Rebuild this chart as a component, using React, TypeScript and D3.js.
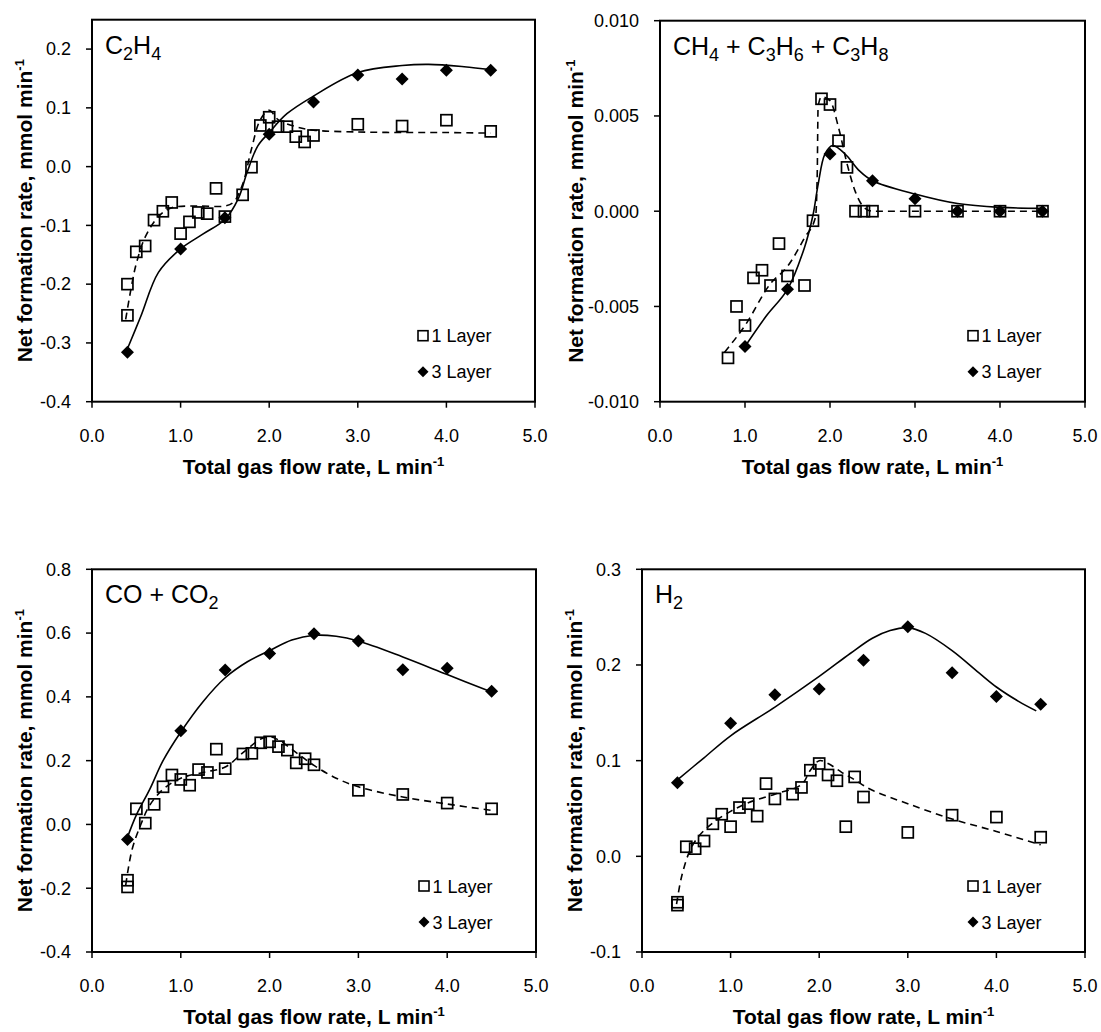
import React from 'react';
import * as d3 from 'd3';

// ---------- shared axis values ----------
const xTickValues = [0, 1, 2, 3, 4, 5];
const flow1Layer = [0.4, 0.4, 0.5, 0.6, 0.7, 0.8, 0.9, 1.0, 1.1, 1.2, 1.3, 1.4, 1.5, 1.7, 1.8, 1.9, 2.0, 2.1, 2.2, 2.3, 2.4, 2.5, 3.0, 3.5, 4.0, 4.5];
const flow3Layer = [0.4, 1.0, 1.5, 2.0, 2.5, 3.0, 3.5, 4.0, 4.5];

// ---------- Panel A: C2H4 ----------
const c2h4Ticks = [-0.4, -0.3, -0.2, -0.1, 0.0, 0.1, 0.2];
const c2h4One = [-0.200, -0.253, -0.145, -0.135, -0.091, -0.076, -0.061, -0.114, -0.094, -0.078, -0.080, -0.037, -0.085, -0.048, -0.001, 0.070, 0.084, 0.068, 0.068, 0.051, 0.042, 0.053, 0.072, 0.069, 0.079, 0.060];
const c2h4Three = [-0.316, -0.140, -0.087, 0.055, 0.110, 0.156, 0.149, 0.164, 0.164];
const c2h4FitOneX = [0.38, 0.45, 0.5, 0.6, 0.75, 0.9, 1.2, 1.5, 1.6, 1.7, 1.8, 1.9, 2.0, 2.1, 2.3, 2.5, 3.0, 3.5, 4.0, 4.5];
const c2h4FitOneY = [-0.26, -0.2, -0.165, -0.12, -0.085, -0.07, -0.067, -0.067, -0.06, -0.03, 0.03, 0.08, 0.096, 0.08, 0.068, 0.062, 0.059, 0.058, 0.058, 0.057];
const c2h4FitThreeX = [0.4, 0.55, 0.75, 1.0, 1.25, 1.5, 1.65, 1.75, 1.87, 2.0, 2.2, 2.5, 3.0, 3.5, 3.8, 4.2, 4.5];
const c2h4FitThreeY = [-0.31, -0.255, -0.18, -0.14, -0.115, -0.09, -0.055, -0.01, 0.035, 0.058, 0.09, 0.12, 0.16, 0.172, 0.174, 0.17, 0.165];

// ---------- Panel B: CH4 + C3H6 + C3H8 ----------
const hcTicks = [-0.01, -0.005, 0, 0.005, 0.01];
const hcFlowOne = [0.8, 0.9, 1.0, 1.1, 1.2, 1.3, 1.4, 1.5, 1.7, 1.8, 1.9, 2.0, 2.1, 2.2, 2.3, 2.4, 2.5, 3.0, 3.5, 4.0, 4.5];
const hcOne = [-0.0077, -0.0050, -0.0060, -0.0035, -0.0031, -0.0039, -0.0017, -0.0034, -0.0039, -0.0005, 0.0059, 0.0056, 0.0037, 0.0023, 0, 0, 0, 0, 0, 0, 0];
const hcFlowThree = [1.0, 1.5, 2.0, 2.5, 3.0, 3.5, 4.0, 4.5];
const hcThree = [-0.0071, -0.0041, 0.0030, 0.0016, 0.00065, 0, 0, 0];
const hcFitOneX = [0.76, 1.0, 1.3, 1.5, 1.7, 1.83, 1.85, 1.86, 1.9, 2.0, 2.1, 2.2, 2.3, 2.4, 2.5, 3.0, 4.5];
const hcFitOneY = [-0.0074, -0.006, -0.0038, -0.0029, -0.0014, -0.0003, 0.002, 0.0055, 0.006, 0.0058, 0.0044, 0.0025, 0.001, 0.0002, 0, 0, 0];
const hcFitThreeX = [1.0, 1.25, 1.5, 1.7, 1.8, 1.86, 1.94, 2.03, 2.1, 2.2, 2.35, 2.5, 3.0, 3.5, 4.0, 4.5];
const hcFitThreeY = [-0.0071, -0.0055, -0.0041, -0.0019, -0.0002, 0.0014, 0.003, 0.00345, 0.0033, 0.0029, 0.0021, 0.0016, 0.0009, 0.0004, 0.0002, 0.00015];

// ---------- Panel C: CO + CO2 ----------
const coTicks = [-0.4, -0.2, 0.0, 0.2, 0.4, 0.6, 0.8];
const coOne = [-0.175, -0.196, 0.049, 0.004, 0.063, 0.118, 0.155, 0.141, 0.123, 0.172, 0.163, 0.236, 0.175, 0.221, 0.223, 0.256, 0.259, 0.244, 0.233, 0.193, 0.206, 0.187, 0.107, 0.094, 0.067, 0.049];
const coThree = [-0.047, 0.294, 0.484, 0.536, 0.598, 0.575, 0.485, 0.490, 0.418];
const coFitOneX = [0.38, 0.45, 0.55, 0.65, 0.8, 1.0, 1.25, 1.5, 1.7, 1.9, 2.0, 2.1, 2.3, 2.5, 2.75, 3.0, 3.5, 4.0, 4.5];
const coFitOneY = [-0.19, -0.08, 0.0, 0.06, 0.11, 0.145, 0.163, 0.18, 0.225, 0.268, 0.275, 0.265, 0.225, 0.185, 0.145, 0.118, 0.086, 0.064, 0.044];
const coFitThreeX = [0.4, 0.5, 0.65, 0.8, 1.0, 1.25, 1.5, 1.75, 2.0, 2.25, 2.5, 2.75, 3.0, 3.5, 4.0, 4.5];
const coFitThreeY = [-0.04, 0.03, 0.11, 0.2, 0.29, 0.385, 0.46, 0.51, 0.545, 0.578, 0.593, 0.59, 0.575, 0.525, 0.47, 0.415];

// ---------- Panel D: H2 ----------
const h2Ticks = [-0.1, 0.0, 0.1, 0.2, 0.3];
const h2One = [-0.048, -0.051, 0.010, 0.008, 0.016, 0.034, 0.044, 0.031, 0.051, 0.055, 0.042, 0.076, 0.060, 0.065, 0.072, 0.090, 0.097, 0.085, 0.079, 0.031, 0.083, 0.062, 0.025, 0.043, 0.041, 0.020];
const h2Three = [0.077, 0.139, 0.169, 0.175, 0.205, 0.240, 0.192, 0.167, 0.159];
const h2FitOneX = [0.39, 0.45, 0.55, 0.65, 0.8, 1.0, 1.2, 1.5, 1.8, 1.9, 2.0, 2.1, 2.25, 2.4, 2.6, 3.0, 3.5, 4.0, 4.5];
const h2FitOneY = [-0.05, -0.02, 0.008, 0.022, 0.035, 0.047, 0.056, 0.065, 0.075, 0.09, 0.1, 0.097, 0.088, 0.08, 0.069, 0.055, 0.039, 0.026, 0.012];
const h2FitThreeX = [0.4, 0.7, 1.0, 1.5, 2.0, 2.35, 2.6, 2.8, 3.0, 3.2, 3.5, 3.8, 4.0, 4.25, 4.45];
const h2FitThreeY = [0.08, 0.103, 0.126, 0.156, 0.188, 0.212, 0.228, 0.236, 0.239, 0.233, 0.215, 0.192, 0.177, 0.162, 0.152];

const FONT = "'Liberation Sans', Arial, Helvetica, sans-serif";

type Box = { l: number; r: number; t: number; b: number };

function Panel(props: {
  box: Box; yDomain: [number, number]; yTicks: number[]; decimals: number; titleX: number;
  label: React.ReactNode; steepDashed?: boolean;
  x1: number[]; y1: number[]; x3: number[]; y3: number[];
  f1x: number[]; f1y: number[]; f3x: number[]; f3y: number[];
}) {
  const { box, yDomain, yTicks, decimals, titleX, label, steepDashed, x1, y1, x3, y3, f1x, f1y, f3x, f3y } = props;
  const x = d3.scaleLinear().domain([0, 5]).range([box.l, box.r]);
  const y = d3.scaleLinear().domain(yDomain).range([box.b, box.t]);
  const smooth = d3.line<[number, number]>().x(d => x(d[0])).y(d => y(d[1])).curve(d3.curveCatmullRom.alpha(0.5));
  const mono = d3.line<[number, number]>().x(d => x(d[0])).y(d => y(d[1])).curve(d3.curveMonotoneX);
  const fit1 = (steepDashed ? mono : smooth)(f1x.map((v, i) => [v, f1y[i]] as [number, number])) || '';
  const fit3 = smooth(f3x.map((v, i) => [v, f3y[i]] as [number, number])) || '';
  const sq = 11;
  const dm = 6.5;
  const diamond = (cx: number, cy: number, s: number) => `M${cx},${cy - s}L${cx + s},${cy}L${cx},${cy + s}L${cx - s},${cy}Z`;
  const midY = (box.t + box.b) / 2;
  const midX = (box.l + box.r) / 2;
  return (
    <g fontFamily={FONT}>
      <path d={fit1} fill="none" stroke="#000" strokeWidth={1.6} strokeDasharray="7,5" />
      <path d={fit3} fill="none" stroke="#000" strokeWidth={1.6} />
      {x1.map((v, i) => (
        <rect key={'s' + i} x={x(v) - sq / 2} y={y(y1[i]) - sq / 2} width={sq} height={sq} fill="none" stroke="#000" strokeWidth={1.7} />
      ))}
      {x3.map((v, i) => (
        <path key={'d' + i} d={diamond(x(v), y(y3[i]), dm)} fill="#000" />
      ))}
      <rect x={box.l} y={box.t} width={box.r - box.l} height={box.b - box.t} fill="none" stroke="#000" strokeWidth={2} />
      {xTickValues.map(t => (
        <g key={'xt' + t}>
          <line x1={x(t)} x2={x(t)} y1={box.b} y2={box.b + 6} stroke="#000" strokeWidth={1.5} />
          <text x={x(t)} y={box.b + 40} textAnchor="middle" fontSize={18}>{t.toFixed(1)}</text>
        </g>
      ))}
      {yTicks.map(t => (
        <g key={'yt' + t}>
          <line x1={box.l - 6} x2={box.l} y1={y(t)} y2={y(t)} stroke="#000" strokeWidth={1.5} />
          <text x={box.l - 21} y={y(t)} dy="0.35em" textAnchor="end" fontSize={18}>{t.toFixed(decimals)}</text>
        </g>
      ))}
      <text x={box.l + 13} y={box.t + 34} fontSize={25}>{label}</text>
      <rect x={box.r - 112 - 5} y={box.b - 66 - 5} width={10} height={10} fill="none" stroke="#000" strokeWidth={1.6} />
      <text x={box.r - 103.5} y={box.b - 66 + 6.5} fontSize={18}>1 Layer</text>
      <path d={diamond(box.r - 112, box.b - 30, 5.5)} fill="#000" />
      <text x={box.r - 103.5} y={box.b - 30 + 6.5} fontSize={18}>3 Layer</text>
      <text x={midX} y={box.b + 72} textAnchor="middle" fontSize={21} fontWeight="bold">
        Total gas flow rate, L min<tspan fontSize={13} dy={-8}>-1</tspan>
      </text>
      <text transform={`translate(${titleX},${midY}) rotate(-90)`} textAnchor="middle" fontSize={21} fontWeight="bold">
        Net formation rate, mmol min<tspan fontSize={13} dy={-8}>-1</tspan>
      </text>
    </g>
  );
}

export default function App() {
  return (
    <svg width={1101} height={1032} style={{ position: 'absolute', left: 0, top: 0, background: '#fff' }}>
      <Panel
        box={{ l: 92, r: 535, t: 19.7, b: 401.7 }} yDomain={[-0.4, 0.25]} yTicks={c2h4Ticks} decimals={1} titleX={31.5}
        label={<>C<tspan fontSize={18} dy={6}>2</tspan><tspan dy={-6}>H</tspan><tspan fontSize={18} dy={6}>4</tspan></>}
        x1={flow1Layer} y1={c2h4One} x3={flow3Layer} y3={c2h4Three}
        f1x={c2h4FitOneX} f1y={c2h4FitOneY} f3x={c2h4FitThreeX} f3y={c2h4FitThreeY}
      />
      <Panel
        box={{ l: 660, r: 1085, t: 20.7, b: 401.7 }} yDomain={[-0.01, 0.01]} yTicks={hcTicks} decimals={3} titleX={583}
        steepDashed={true}
        label={<>CH<tspan fontSize={18} dy={6}>4</tspan><tspan dy={-6}> + C</tspan><tspan fontSize={18} dy={6}>3</tspan><tspan dy={-6}>H</tspan><tspan fontSize={18} dy={6}>6</tspan><tspan dy={-6}> + C</tspan><tspan fontSize={18} dy={6}>3</tspan><tspan dy={-6}>H</tspan><tspan fontSize={18} dy={6}>8</tspan></>}
        x1={hcFlowOne} y1={hcOne} x3={hcFlowThree} y3={hcThree}
        f1x={hcFitOneX} f1y={hcFitOneY} f3x={hcFitThreeX} f3y={hcFitThreeY}
      />
      <Panel
        box={{ l: 92, r: 536, t: 569.3, b: 952 }} yDomain={[-0.4, 0.8]} yTicks={coTicks} decimals={1} titleX={32}
        label={<>CO + CO<tspan fontSize={18} dy={6}>2</tspan></>}
        x1={flow1Layer} y1={coOne} x3={flow3Layer} y3={coThree}
        f1x={coFitOneX} f1y={coFitOneY} f3x={coFitThreeX} f3y={coFitThreeY}
      />
      <Panel
        box={{ l: 642, r: 1085, t: 569.3, b: 952 }} yDomain={[-0.1, 0.3]} yTicks={h2Ticks} decimals={1} titleX={582}
        label={<>H<tspan fontSize={18} dy={6}>2</tspan></>}
        x1={flow1Layer} y1={h2One} x3={flow3Layer} y3={h2Three}
        f1x={h2FitOneX} f1y={h2FitOneY} f3x={h2FitThreeX} f3y={h2FitThreeY}
      />
    </svg>
  );
}
